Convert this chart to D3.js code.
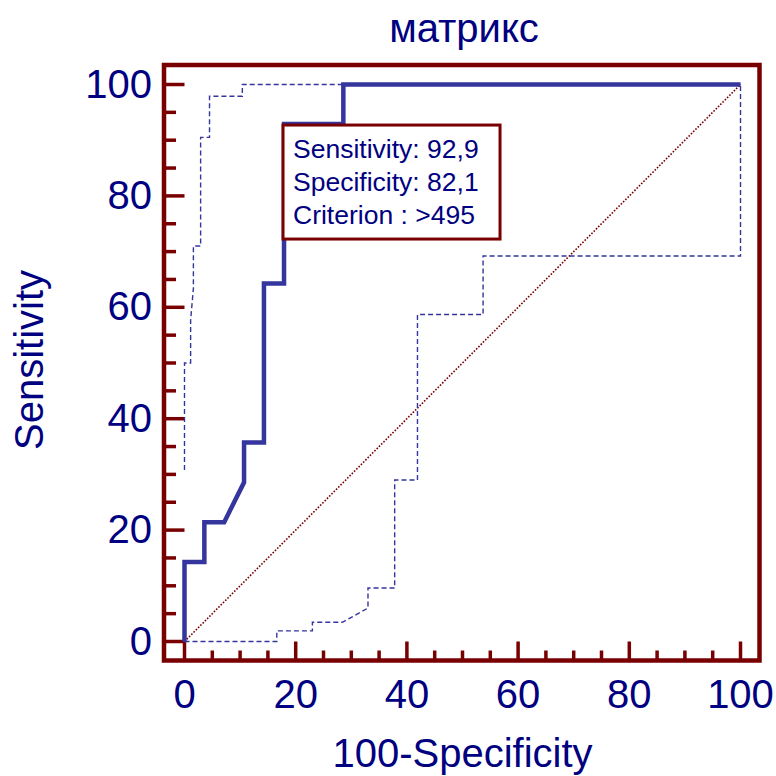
<!DOCTYPE html>
<html>
<head>
<meta charset="utf-8">
<script src="https://cdn.jsdelivr.net/npm/d3@7/dist/d3.min.js"></script>
<style>
  html, body { margin: 0; padding: 0; background: #fff; }
  svg { display: block; font-family: "Liberation Sans", Arial, sans-serif; }
</style>
</head>
<body>
<svg id="chart" width="776" height="776"></svg>
<script>
// ROC curve: x = 100 - Specificity, y = Sensitivity
const rocX = [0, 0, 3.57, 3.57, 7.14, 10.71, 10.71, 14.29, 14.29, 17.9, 17.9, 28.57, 28.57, 100];
const rocY = [0, 14.29, 14.29, 21.43, 21.43, 28.57, 35.71, 35.71, 64.29, 64.29, 92.9, 92.9, 100, 100];

// Upper confidence bound
const upperX = [0, 0, 1.1, 1.1, 1.6, 1.6, 2.9, 2.9, 4.5, 4.5, 10.4, 10.4, 100];
const upperY = [30.8, 50, 50, 57.7, 63.4, 71, 71, 90.5, 90.5, 97.9, 97.9, 100, 100];

// Lower confidence bound
const lowerX = [0, 16.6, 16.6, 23, 23, 28.4, 33, 33, 37.8, 37.8, 41.9, 41.9, 53.7, 53.7, 100, 100];
const lowerY = [0, 0, 1.9, 1.9, 3.45, 3.45, 6, 9.6, 9.6, 29, 29, 58.7, 58.7, 69.2, 69.2, 100];

// Reference diagonal
const diagX = [0, 100];
const diagY = [0, 100];

// Optimal criterion
const critSensitivity = 92.9;
const critSpecificity = 82.1;
const critLabel = ">495";

const majorTicks = [0, 20, 40, 60, 80, 100];
const minorTicks = d3.range(0, 101, 5);

const title = "матрикс";
const xTitle = "100-Specificity";
const yTitle = "Sensitivity";

const frameColor = "#780000";
const textColor = "#000080";
const lineColor = "#35359e";

const svg = d3.select("#chart");

const x = d3.scaleLinear().domain([0, 100]).range([184.5, 740.5]);
const y = d3.scaleLinear().domain([0, 100]).range([641.5, 84.5]);

const frame = { x0: 164, y0: 65, x1: 759.5, y1: 660.5 };

// Frame
svg.append("rect")
  .attr("x", frame.x0).attr("y", frame.y0)
  .attr("width", frame.x1 - frame.x0).attr("height", frame.y1 - frame.y0)
  .attr("fill", "none").attr("stroke", frameColor).attr("stroke-width", 4.5);

// Ticks on the left edge
svg.append("g").selectAll("line").data(minorTicks).join("line")
  .attr("x1", frame.x0).attr("x2", d => majorTicks.includes(d) ? x(0) : x(0) - 8.5)
  .attr("y1", d => y(d)).attr("y2", d => y(d))
  .attr("stroke", frameColor).attr("stroke-width", 3.5);

// Ticks on the bottom edge
svg.append("g").selectAll("line").data(minorTicks).join("line")
  .attr("y1", frame.y1).attr("y2", d => majorTicks.includes(d) ? y(0) : y(0) + 9)
  .attr("x1", d => x(d)).attr("x2", d => x(d))
  .attr("stroke", frameColor).attr("stroke-width", 3.5);

// Tick labels
svg.append("g").selectAll("text").data(majorTicks).join("text")
  .attr("x", 152).attr("y", d => y(d) + 13)
  .attr("text-anchor", "end").attr("font-size", 40).attr("fill", textColor)
  .text(d => d);

svg.append("g").selectAll("text").data(majorTicks).join("text")
  .attr("x", d => x(d)).attr("y", 708)
  .attr("text-anchor", "middle").attr("font-size", 40).attr("fill", textColor)
  .text(d => d);

// Titles
svg.append("text")
  .attr("x", 464).attr("y", 42)
  .attr("text-anchor", "middle").attr("font-size", 40).attr("fill", textColor)
  .text(title);

svg.append("text")
  .attr("x", (x(0) + x(100)) / 2).attr("y", 767)
  .attr("text-anchor", "middle").attr("font-size", 40).attr("fill", textColor)
  .text(xTitle);

svg.append("text")
  .attr("transform", `translate(43,${(y(0) + y(100)) / 2 - 3}) rotate(-90)`)
  .attr("text-anchor", "middle").attr("font-size", 40).attr("fill", textColor)
  .text(yTitle);

const line = d3.line().x(d => x(d[0])).y(d => y(d[1]));
const zip = (a, b) => a.map((v, i) => [v, b[i]]);

// Diagonal
svg.append("path")
  .attr("d", line(zip(diagX, diagY)))
  .attr("fill", "none").attr("stroke", frameColor)
  .attr("stroke-width", 1.6).attr("stroke-dasharray", "1.6,1.6");

// Confidence bounds
[zip(upperX, upperY), zip(lowerX, lowerY)].forEach(pts => {
  svg.append("path")
    .attr("d", line(pts))
    .attr("fill", "none").attr("stroke", lineColor)
    .attr("stroke-width", 1.4).attr("stroke-dasharray", "5,3");
});

// ROC curve
svg.append("path")
  .attr("d", line(zip(rocX, rocY)))
  .attr("fill", "none").attr("stroke", lineColor)
  .attr("stroke-width", 4.5).attr("stroke-linejoin", "miter");

// Criterion box anchored at the optimal point
const bx = x(100 - critSpecificity) - 1;
const by = y(critSensitivity) + 1;
const box = svg.append("g").attr("transform", `translate(${bx},${by})`);
box.append("rect")
  .attr("width", 217).attr("height", 114)
  .attr("fill", "#fff").attr("stroke", frameColor).attr("stroke-width", 3);
const fmt = v => d3.format(".1f")(v).replace(".", ",");
const lines = [
  `Sensitivity: ${fmt(critSensitivity)}`,
  `Specificity: ${fmt(critSpecificity)}`,
  `Criterion : ${critLabel}`
];
box.selectAll("text.info").data(lines).join("text")
  .attr("class", "info")
  .attr("x", 10).attr("y", (d, i) => 33 + i * 33)
  .attr("font-size", 26.5).attr("fill", textColor)
  .text(d => d);
</script>
</body>
</html>
